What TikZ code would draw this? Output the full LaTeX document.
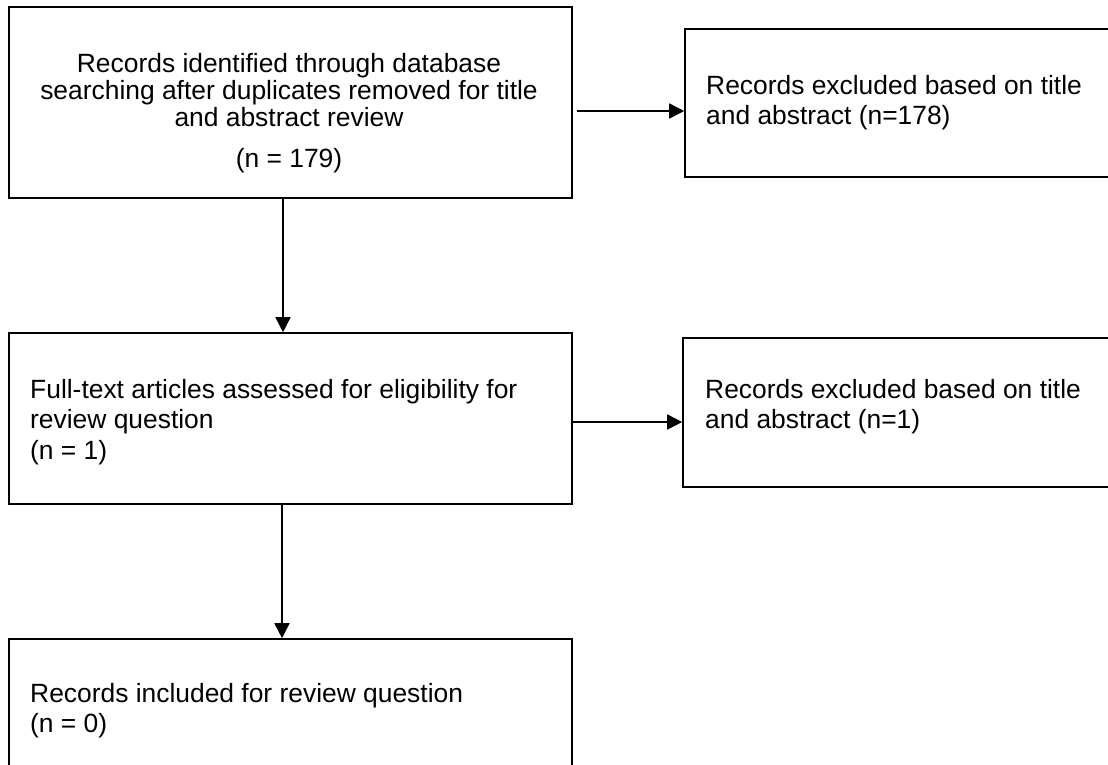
\documentclass[tikz,border=0pt]{standalone}
\usepackage{fontspec}
\setmainfont{Liberation Sans}
\usetikzlibrary{arrows.meta}
\begin{document}
\begin{tikzpicture}[x=1pt,y=-1pt,
  box/.style={draw=black,line width=1.6pt,rectangle,inner sep=0pt},
  txt/.style={inner sep=0pt,font=\fontsize{26.4pt}{30.4pt}\selectfont},
  tighttxt/.style={inner sep=0pt,font=\fontsize{26.4pt}{27pt}\selectfont},
  arr/.style={draw=black,line width=1.6pt,-{Triangle[length=15pt,width=15pt]}}]
\useasboundingbox (0,0) rectangle (1108,765);
\clip (0,0) rectangle (1108,765);
\fill[white] (0,0) rectangle (1108,765);
% boxes
\node[box,minimum width=563pt,minimum height=191pt] (b1) at (290.5,102.5) {};
\node[box,minimum width=430pt,minimum height=148pt] (r1) at (900,103) {};
\node[box,minimum width=563pt,minimum height=171pt] (b2) at (290.5,418.5) {};
\node[box,minimum width=432pt,minimum height=149pt] (r2) at (899,412.5) {};
\node[box,minimum width=563pt,minimum height=141pt] (b3) at (290.5,709.5) {};
% texts
\node[tighttxt,anchor=north,align=center] (t1) at (289,53) {Records identified through database\\searching after duplicates removed for title\\and abstract review\\[14.5pt](n = 179)};
\node[txt,anchor=north west,align=left] (tr1) at (706,75) {Records excluded based on title\\and abstract (n=178)};
\node[txt,anchor=north west,align=left] (t2) at (30,379) {Full-text articles assessed for eligibility for\\review question\\(n = 1)};
\node[txt,anchor=north west,align=left] (tr2) at (705,379) {Records excluded based on title\\and abstract (n=1)};
\node[txt,anchor=north west,align=left] (t3) at (30,683) {Records included for review question\\(n = 0)};
% connectors
\coordinate (a1) at ([shift={(4,8.5)}]b1.east);
\draw[arr] (a1) -- (r1.west |- a1);
\coordinate (a2) at ([shift={(-2,3.5)}]b2.east);
\draw[arr] (a2) -- (r2.west |- a2);
\coordinate (v1) at ([shift={(-7.5,0)}]b1.south);
\draw[arr] (v1) -- (b2.north -| v1);
\coordinate (v2) at ([shift={(-8.5,0)}]b2.south);
\draw[arr] (v2) -- (b3.north -| v2);
\end{tikzpicture}
\end{document}
